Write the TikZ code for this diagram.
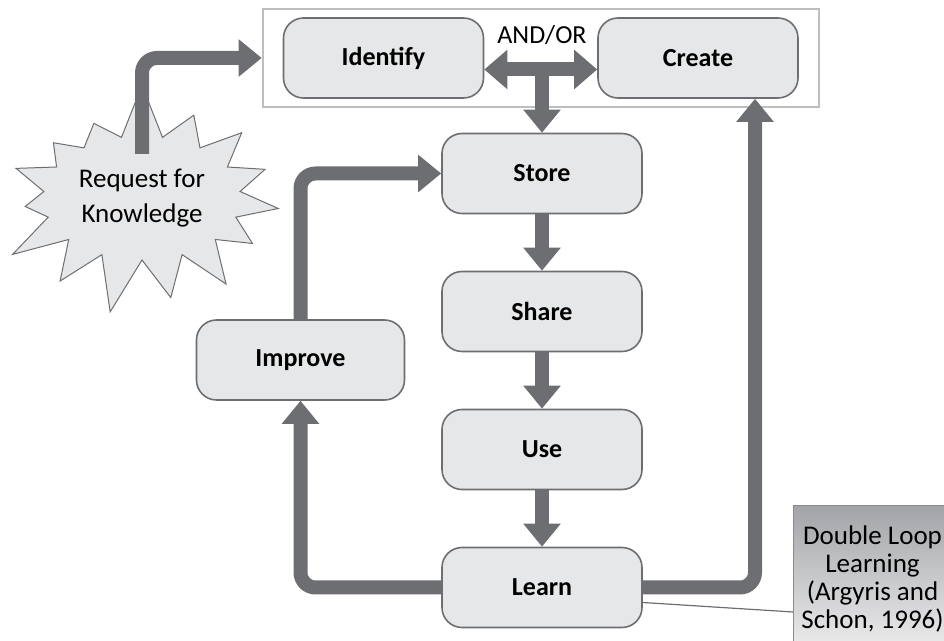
\documentclass[tikz,border=0pt]{standalone}
\usepackage{fontspec}
\setmainfont{Carlito}
\usetikzlibrary{arrows.meta,positioning,fit,shapes.symbols,calc}
\definecolor{arrowgray}{HTML}{6D6E71}
\definecolor{boxfill}{HTML}{E6E7E8}
\definecolor{groupline}{HTML}{BCBEC0}
\definecolor{notetop}{HTML}{A2A4A7}
\definecolor{notebottom}{HTML}{EEEEEF}

\begin{document}
\begin{tikzpicture}[x=0.5pt,y=-0.5pt]
\tikzstyle{stage}=[rectangle, rounded corners=10pt, draw=arrowgray, line width=0.8pt, fill=boxfill, minimum width=100pt, minimum height=40pt, node distance=69pt, font=\bfseries\fontsize{13}{15}\selectfont]
\tikzstyle{groupbox}=[rectangle, draw=groupline, line width=1pt, inner xsep=10pt, inner ysep=4pt]
\tikzstyle{burst}=[starburst, starburst points=15, starburst point height=28pt, random starburst=7, draw=arrowgray, line width=0.5pt, fill=boxfill, minimum width=152pt, minimum height=118pt, align=center, font=\fontsize{13.5}{17.5}\selectfont]
\tikzstyle{flow}=[-{Triangle[width=18pt,length=11.5pt]}, line width=7pt, draw=arrowgray, rounded corners=7.5pt]
\tikzstyle{note}=[rectangle, draw=arrowgray!80, line width=0.5pt, top color=notetop, bottom color=notebottom, minimum width=79pt, inner xsep=2pt, inner ysep=10pt, align=center, anchor=north west, font=\fontsize{13.5}{14}\selectfont]

  \useasboundingbox (0,0) rectangle (944,641);

  % main column
  \node[stage] (store) at (542,173.5) {Store};
  \node[stage] (share) [below of =store] {Share};
  \node[stage] (use)   [below of =share] {Use};
  \node[stage] (learn) [below of =use]   {Learn};

  \node[stage] (identify) at (383.5,58) {Identify};
  \node[stage] (create)   at (698,58)   {Create};
  \node[stage, minimum width=104pt] (improve) at (300.5,360) {Improve};

  \node[groupbox, fit=(identify)(create)] (group) {};
  \node[font=\fontsize{13}{15}\selectfont] (andor) at (542,35) {AND/OR};
  \coordinate (split) at (542,69.5);

  \node[burst] (request) at (142,198) {Request for\\Knowledge};

  \node[note] (loop) at (793,505) {Double Loop\\Learning\\(Argyris and\\Schon, 1996)};

  % connectors
  \draw[flow] ([yshift=22pt]request.center) |- (group.west);
  \draw[flow, {Triangle[width=19pt,length=11.5pt]}-{Triangle[width=19pt,length=11.5pt]}] (identify.east |- split) -- (create.west |- split);
  \draw[flow] (split) -- (store.north);
  \draw[flow] (store) -- (share);
  \draw[flow] (share) -- (use);
  \draw[flow] (use) -- (learn);
  \draw[flow] (improve.north) |- (store.west);
  \draw[flow] (learn.west) -| (improve.south);
  \draw[flow] (learn.east) -| ([xshift=28.5pt]create.south);
  \draw[arrowgray, line width=0.6pt] ([yshift=-7.5pt]learn.east) -- ([yshift=-53.5pt]loop.north west);

\end{tikzpicture}
\end{document}
